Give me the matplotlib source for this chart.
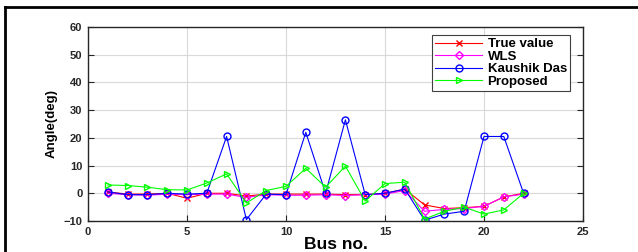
import matplotlib.pyplot as plt
from matplotlib.lines import Line2D

plt.rcParams['font.family'] = ['Liberation Sans', 'DejaVu Sans']
plt.rcParams['font.weight'] = 'bold'

# Bus numbers and angle estimates (deg)
bus = list(range(1, 23))
true_value = [0.5, -0.3, -0.3, 0, -1.8, 0, 0, -1, -0.3, -0.3, -0.3,
              -0.3, -0.5, -0.5, 0, 1.5, -4.2, -5.5, -5.2, -4.7, -1.3, 0]
wls = [0, -0.5, -0.7, -0.3, -0.5, -0.3, -0.3, -1.5, -0.5, -0.7, -0.7,
       -0.5, -0.8, -0.5, -0.3, 1, -6.5, -5.8, -5.5, -4.7, -1.3, -0.3]
kaushik = [0.5, -0.5, -0.5, 0, -0.3, 0, 20.5, -9.5, -0.3, -0.5, 22,
           0, 26.5, -0.5, 0, 1.5, -9.7, -7.5, -6.5, 20.5, 20.5, 0]
proposed = [3, 2.8, 2.2, 1.3, 1.2, 3.7, 7, -3.5, 1, 2.5, 9,
            2.2, 9.8, -2.8, 3.5, 4, -9.3, -6.5, -5, -7.5, -6, 0]

fig = plt.figure(figsize=(6.38, 2.52), dpi=100)
ax = fig.add_axes([88 / 638, 1 - 221 / 252, (583 - 88) / 638, (221 - 27) / 252])

ax.plot(bus, true_value, color='#FF0000', marker='x', markersize=5, lw=0.8,
        label='True value')
ax.plot(bus, wls, color='#FF00FF', marker='D', markersize=4, lw=0.8,
        markerfacecolor='none', label='WLS')
ax.plot(bus, kaushik, color='#0000FF', marker='o', markersize=5, lw=0.8,
        markerfacecolor='none', label='Kaushik Das')
ax.plot(bus, proposed, color='#00FF00', marker='>', markersize=5, lw=0.8,
        markerfacecolor='none', label='Proposed')

ax.set_xlim(0, 25)
ax.set_ylim(-10, 60)
ax.set_xticks([0, 5, 10, 15, 20, 25])
ax.set_yticks([-10, 0, 10, 20, 30, 40, 50, 60])
ax.grid(True, color='#d9d9d9', lw=0.8)
ax.set_axisbelow(True)
ax.tick_params(direction='in', length=4, labelsize=8, top=False, right=True,
               colors='#262626', pad=4)
for sp in ax.spines.values():
    sp.set_linewidth(1.0)
    sp.set_color('#262626')

ax.set_xlabel('Bus no.', fontsize=12.5, fontweight='bold', labelpad=0)
ax.set_ylabel('Angle(deg)', fontsize=9.5, fontweight='bold', labelpad=4)

leg = ax.legend(loc='upper right', bbox_to_anchor=(0.974, 0.959), fontsize=9.5,
                fancybox=False, framealpha=1, edgecolor='#404040',
                handlelength=3.6, borderpad=0.25, labelspacing=0.02,
                handletextpad=0.4, borderaxespad=0)
leg.get_frame().set_linewidth(0.8)

# outer frame lines (top and left)
fig.add_artist(Line2D([5 / 638, 1], [1 - 7 / 252, 1 - 7 / 252],
                      color='black', lw=2, transform=fig.transFigure))
fig.add_artist(Line2D([5 / 638, 5 / 638], [0, 1 - 7 / 252],
                      color='black', lw=2, transform=fig.transFigure))

fig.savefig('out.png', dpi=100)
